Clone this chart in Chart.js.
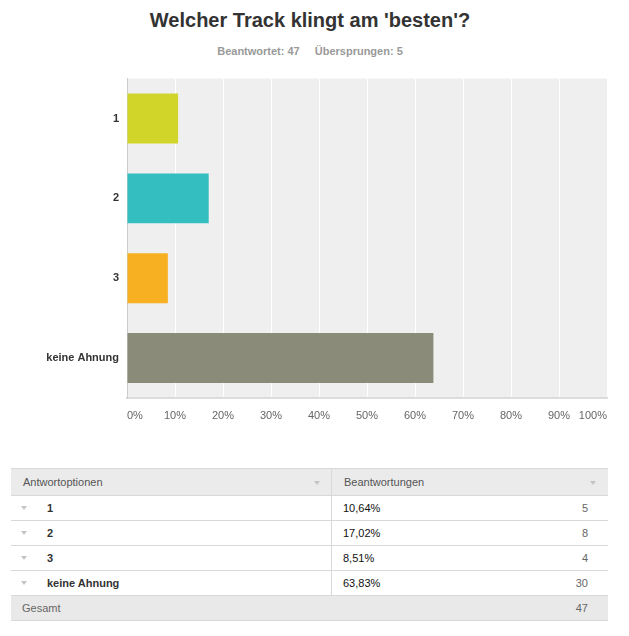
<!DOCTYPE html>
<html>
<head>
<meta charset="utf-8">
<script src="https://cdn.jsdelivr.net/npm/chart.js@4.4.1/dist/chart.umd.min.js"></script>
<style>
  body { margin: 0; width: 629px; height: 636px; background: #fff; position: relative;
         font-family: 'Liberation Sans', Arial, sans-serif; overflow: hidden; }
  #title { position: absolute; left: 0; width: 620px; top: 9px; text-align: center;
           font-size: 20px; font-weight: bold; color: #333; }
  #sub { position: absolute; left: 0; width: 620px; top: 45px; text-align: center;
         font-size: 11px; font-weight: bold; color: #999; }
  #sub span + span { margin-left: 15px; }
  #wrap { position: absolute; left: 0; top: 64px; width: 629px; height: 376px; }
  table { position: absolute; left: 11px; top: 468px; width: 597px; border-collapse: collapse;
          font-size: 11px; color: #333; }
  td { border-bottom: 1px solid #d8d8d8; padding: 0; height: 24px; position: relative; }
  tr.head td { background: #ebebeb; color: #555; height: 26px; border-top: 1px solid #d8d8d8; }
  tr.total td { background: #e9e9e9; color: #666; }
  td.c1 { width: 320px; border-right: 1px solid #d8d8d8; }
  tr.total td.c1 { border-right: none; }
  .lbl { position: absolute; left: 36px; top: 6px; font-weight: bold; }
  .txt { position: absolute; left: 12px; top: 7px; }
  .pct { position: absolute; left: 11px; top: 6px; color: #111; }
  .cnt { position: absolute; right: 20px; top: 6px; color: #666; }
  .tri { position: absolute; width: 0; height: 0; border-left: 3px solid transparent;
         border-right: 3px solid transparent; border-top: 4px solid #c4c4c4; }
</style>
</head>
<body>
<div id="title">Welcher Track klingt am 'besten'?</div>
<div id="sub"><span>Beantwortet: 47</span><span>Übersprungen: 5</span></div>
<div id="wrap"><canvas id="barChart"></canvas></div>
<table id="tbl"></table>
<script>
const categories = ["1", "2", "3", "keine Ahnung"];
const percents = [10.64, 17.02, 8.51, 63.83];
const counts = [5, 8, 4, 30];
const total = 47;
const colors = ["#d1d52a", "#34bec0", "#f7b022", "#8b8b79"];
const xTicks = [0, 10, 20, 30, 40, 50, 60, 70, 80, 90, 100];

Chart.defaults.font.family = "'Liberation Sans', Arial, sans-serif";
Chart.defaults.font.size = 11;

const plotBg = {
  id: "plotBg",
  beforeDraw(chart) {
    const a = chart.chartArea;
    chart.ctx.save();
    chart.ctx.fillStyle = "#efefef";
    chart.ctx.fillRect(a.left, a.top, a.right - a.left, a.bottom - a.top);
    chart.ctx.restore();
  },
};

const ctx = document.getElementById("barChart");
new Chart(ctx, {
  type: "bar",
  data: {
    labels: categories,
    datasets: [
      {
        data: percents,
        backgroundColor: colors,
        categoryPercentage: 0.625,
        barPercentage: 1,
      },
    ],
  },
  options: {
    indexAxis: "y",
    responsive: true,
    maintainAspectRatio: false,
    animation: false,
    layout: { padding: { top: 0, right: 22, left: 0, bottom: 0 } },
    plugins: { legend: { display: false }, tooltip: { enabled: false } },
    scales: {
      x: {
        min: 0,
        max: 100,
        afterFit: (s) => { s.height = 42; },
        afterBuildTicks: (s) => { s.ticks = xTicks.map((v) => ({ value: v })); },
        ticks: {
          color: "#666",
          padding: 11,
          align: "inner",
          maxRotation: 0,
          callback: (v) => v + "%",
        },
        grid: {
          drawTicks: false,
          color: (c) => (c.index === 0 ? "rgba(0,0,0,0)" : "#ffffff"),
          lineWidth: 1,
        },
        border: { color: "#dcdcdc", width: 2 },
      },
      y: {
        afterFit: (s) => { s.width = 127; },
        ticks: { color: "#333", padding: 8, font: { weight: "bold" } },
        grid: { display: false, drawTicks: false },
        border: { color: "#cccccc", width: 1 },
      },
    },
  },
  plugins: [plotBg],
});

function renderTable() {
  const tbl = document.getElementById("tbl");
  let html = `<tr class="head">
    <td class="c1"><span class="txt">Antwortoptionen</span><span class="tri" style="right:11px;top:12px"></span></td>
    <td><span class="txt">Beantwortungen</span><span class="tri" style="right:12px;top:12px"></span></td></tr>`;
  categories.forEach((c, i) => {
    html += `<tr>
      <td class="c1"><span class="tri" style="left:10px;top:10px"></span><span class="lbl">${c}</span></td>
      <td><span class="pct">${percents[i].toFixed(2).replace(".", ",")}%</span><span class="cnt">${counts[i]}</span></td></tr>`;
  });
  html += `<tr class="total"><td class="c1"><span class="txt" style="left:11px;top:6px">Gesamt</span></td>
    <td><span class="cnt">${total}</span></td></tr>`;
  tbl.innerHTML = html;
}
renderTable();
</script>
</body>
</html>
